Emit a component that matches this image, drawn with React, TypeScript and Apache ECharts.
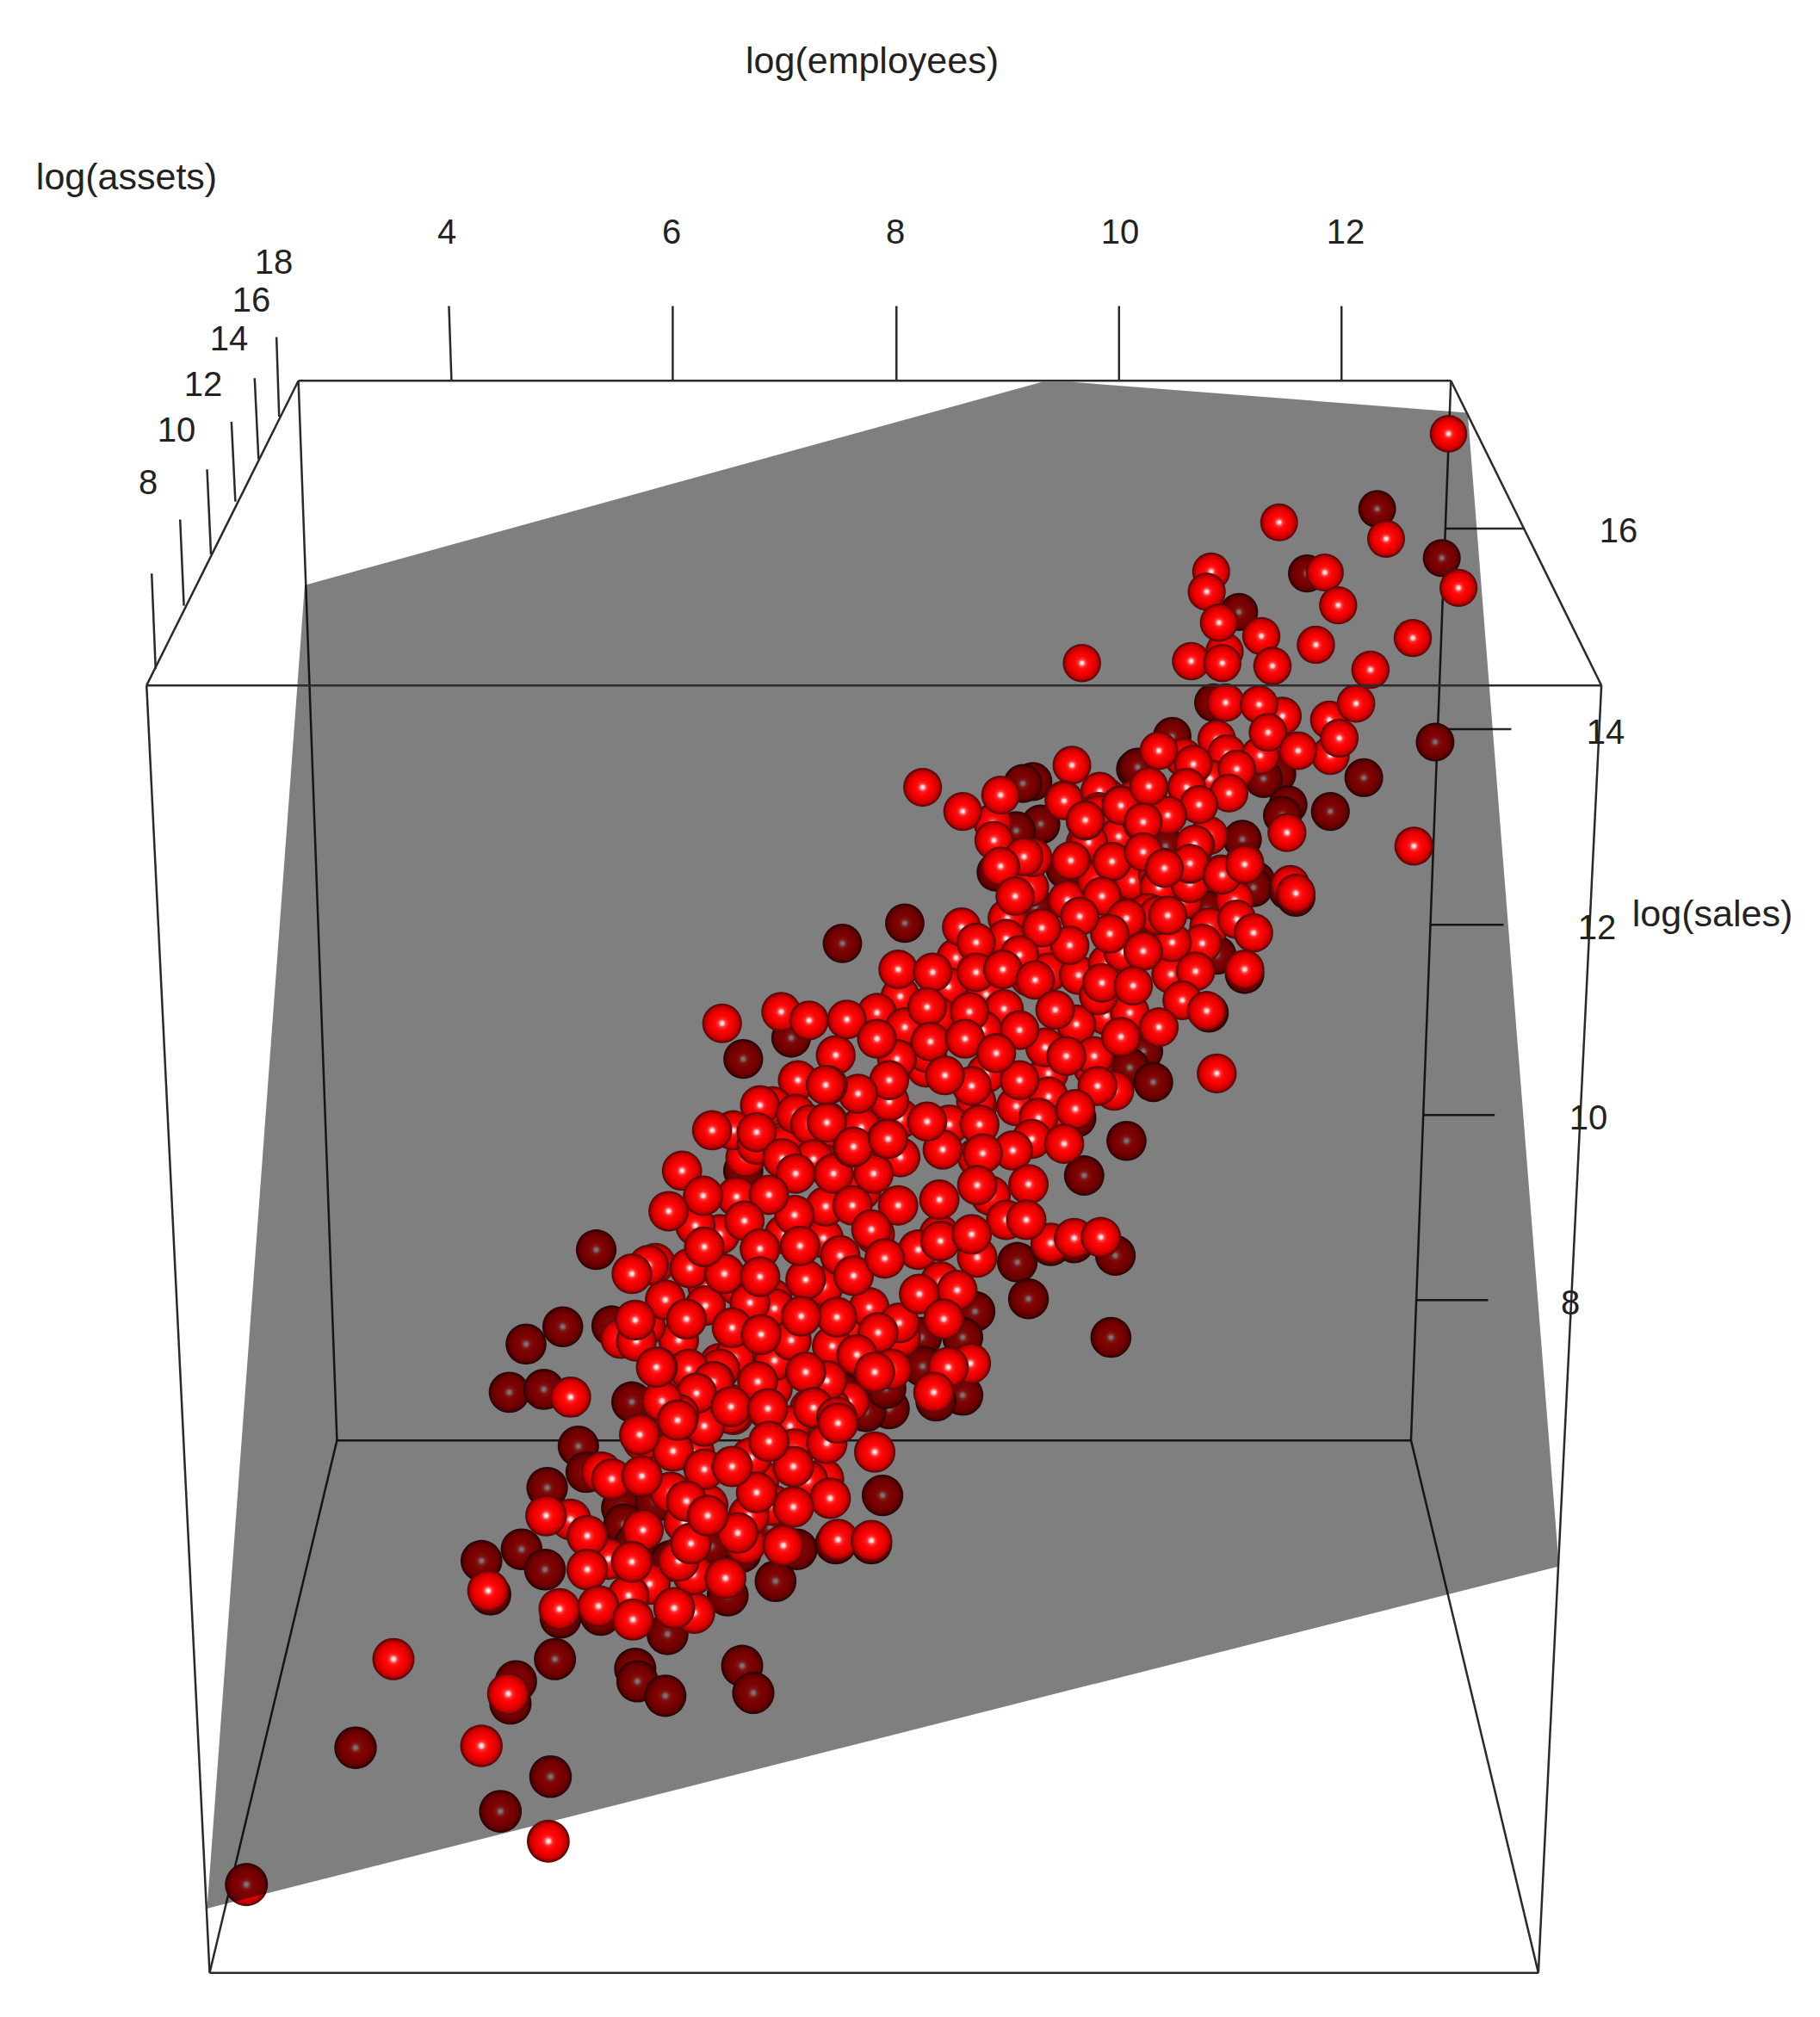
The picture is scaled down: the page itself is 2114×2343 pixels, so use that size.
import React, { useEffect, useRef } from "react";
import * as echarts from "echarts";

const darkFirms: number[][] = [
[12.32,16.20],[12.90,15.69],[11.69,15.53],[11.08,15.13],[10.85,14.19],[10.48,13.84],[12.84,13.78],[11.42,13.45],[11.30,13.40],[12.20,13.41],
[10.15,13.50],[11.52,13.13],[11.47,13.02],[11.90,13.06],[9.30,12.92],[9.23,13.37],[11.11,12.77],[10.42,12.65],[11.23,12.34],[10.16,12.36],
[9.14,13.35],[9.30,12.93],[9.08,12.86],[8.90,12.43],[10.17,13.52],[9.52,12.46],[10.42,12.70],[10.05,12.27],[10.14,12.40],[11.21,12.27],
[11.52,12.24],[11.59,12.17],[10.79,12.04],[10.88,11.57],[11.13,11.37],[9.25,12.07],[8.08,11.90],[7.52,11.69],[10.81,10.97],[10.22,10.57],
[10.10,10.40],[10.31,10.25],[9.62,9.88],[10.07,9.64],[7.06,10.71],[6.63,10.49],[6.63,9.33],[9.09,8.38],[9.39,8.55],[9.60,8.58],
[9.97,8.45],[9.19,8.00],[9.93,7.60],[9.69,9.28],[8.71,7.87],[8.23,7.60],[8.60,7.60],[8.24,7.30],[8.60,7.00],[8.36,6.94],
[7.93,6.87],[7.89,7.03],[5.31,8.51],[5.01,7.71],[4.68,7.53],[4.53,7.03],[4.84,7.06],[5.63,6.93],[5.45,7.72],[5.15,6.47],
[5.22,6.20],[4.87,6.04],[5.54,5.83],[5.56,5.66],[4.64,5.40],[4.28,5.28],[4.85,5.19],[5.66,5.46],[4.36,4.93],[4.99,4.69],
[5.35,4.72],[5.95,4.52],[4.94,4.26],[5.66,4.16],[6.62,4.19],[4.59,4.03],[6.49,4.92],[6.92,5.07],[7.11,5.40],[7.46,5.46],
[7.78,5.46],[7.88,5.96],[5.84,5.90],[6.61,5.37],[5.98,5.28],[6.34,5.43],[6.87,5.63],[7.94,6.86],[7.73,6.83],[7.91,7.07],
[7.52,7.03],[4.54,3.80],[5.68,4.03],[5.93,3.88],[6.72,3.91],[3.15,3.34],[4.90,3.04],[4.45,2.68],[2.17,1.92],
];

const brightFirms: number[][] = [
[9.20,12.27],[9.54,12.14],[10.12,12.34],[10.12,11.74],[10.58,12.14],[11.04,12.14],[10.81,12.81],[9.89,13.21],[10.35,12.40],[8.04,11.14],
[8.50,10.80],[8.85,10.80],[9.20,11.34],[9.89,10.94],[9.77,10.40],[9.43,9.87],[9.08,10.00],[8.73,10.00],[8.27,10.40],[7.12,10.27],
[6.89,10.00],[7.00,9.60],[7.35,9.73],[8.04,9.47],[8.73,9.47],[8.85,9.07],[8.39,8.67],[7.81,8.67],[7.69,9.13],[8.04,9.87],
[7.35,9.40],[7.35,8.13],[8.04,7.60],[7.58,7.73],[7.00,7.47],[6.42,7.33],[6.89,7.07],[6.54,6.80],[7.12,6.53],[7.81,7.33],
[5.96,7.20],[6.19,6.40],[6.77,6.13],[6.31,5.86],[5.73,6.53],[6.65,5.46],[6.89,5.86],[6.08,5.33],[5.73,5.60],[7.46,10.53],
[7.00,8.67],[6.65,9.47],[6.42,8.67],[6.31,8.13],[6.89,8.00],[7.58,6.93],[7.35,6.13],
[10.83,15.55],[10.95,14.72],[11.47,14.05],[11.89,14.01],[11.90,13.64],[10.88,13.81],[10.58,13.62],[10.97,13.66],[11.27,13.64],[10.82,13.40],
[9.83,13.27],[9.82,13.06],[9.97,12.78],[9.70,12.73],[10.22,12.65],[10.40,12.48],[10.37,12.30],[8.87,12.94],[10.14,13.19],[9.82,13.03],
[10.00,12.80],[9.73,12.74],[10.69,12.71],[10.36,12.27],[10.64,12.31],[9.00,11.95],[8.99,11.74],[9.31,11.69],[8.54,11.54],[8.47,11.24],
[9.37,11.39],[9.64,11.36],[9.90,11.48],[10.04,11.60],[10.26,11.74],[10.26,12.01],[10.81,11.86],[11.06,11.94],[10.47,11.37],[8.81,11.16],
[8.37,10.94],[8.97,11.01],[9.62,10.85],[10.10,10.97],[9.82,11.15],[7.83,10.97],[8.08,10.82],[8.78,10.79],[8.66,10.98],[8.90,10.55],
[8.28,10.55],[8.01,10.49],[8.81,10.34],[9.37,10.34],[9.34,10.61],[9.78,10.52],[9.53,10.52],[9.96,10.16],[7.94,10.05],[8.72,10.05],
[9.37,10.10],[9.28,9.88],[7.68,9.78],[7.39,9.84],[8.48,9.81],[8.75,9.81],[6.78,10.01],[7.10,9.92],[6.54,9.75],[6.75,9.60],
[7.23,9.81],[7.26,9.45],[6.57,9.06],[6.20,8.76],[7.35,8.63],[7.37,8.96],[7.09,8.87],[7.44,9.30],[7.69,9.78],[7.80,9.30],
[8.02,8.97],[7.50,8.45],[7.19,8.20],[8.20,8.51],[8.99,8.82],[8.73,8.43],[9.39,8.58],[9.60,8.63],[8.40,8.18],[8.55,8.09],
[7.76,7.91],[6.29,7.93],[6.91,7.90],[8.03,7.75],[7.84,7.65],[7.43,7.51],[7.96,7.27],[8.67,7.33],[6.91,7.36],[6.55,7.39],
[6.42,7.27],[7.06,7.57],[6.05,7.57],[5.75,7.72],[5.84,8.37],[6.15,8.32],[6.58,8.14],[6.46,8.26],[5.93,7.99],[6.69,7.96],
[5.78,8.35],[5.53,7.59],[5.67,7.56],[5.93,6.91],[6.22,7.02],[6.00,6.42],[5.36,6.20],[5.08,5.71],[5.42,5.30],[5.79,5.04],
[5.60,4.92],[6.19,4.74],[6.18,5.14],[5.98,5.99],[6.68,5.75],[6.05,5.28],[6.10,5.68],[7.23,6.86],[7.05,6.68],[7.41,6.87],
[6.84,6.86],[6.52,6.81],[6.53,6.90],[6.28,6.68],[7.38,7.15],[6.37,7.14],[6.70,6.35],[7.09,6.44],[7.21,6.11],[7.08,6.26],
[12.96,16.98],[12.40,15.89],[11.44,16.06],[13.05,15.38],[11.85,15.54],[10.79,15.34],[11.97,15.20],[10.90,15.02],[11.28,14.88],[11.77,14.79],
[12.64,14.86],[9.67,14.60],[10.65,14.62],[10.93,14.60],[11.38,14.57],[12.26,14.53],[10.96,14.19],[11.26,14.17],[12.13,14.18],[11.34,13.88],
[11.61,13.69],[11.98,13.82],[10.36,13.69],[10.67,13.55],[11.06,13.50],[9.58,13.54],[10.27,13.30],[10.02,13.13],[10.61,13.31],[10.99,13.25],
[10.72,13.13],[9.51,13.18],[9.70,12.96],[10.44,13.02],[10.21,12.94],[11.51,12.84],[12.65,12.70],[10.68,12.72],[9.94,12.54],[9.58,12.54],
[10.64,12.51],[11.13,12.53],[10.92,12.41],[11.54,12.30],[9.80,12.34],[9.23,12.58],[8.24,13.31],[8.94,13.23],[8.60,13.06],[8.88,12.76],
[9.15,12.59],[8.94,12.49],[9.51,13.17],[9.70,12.97],[10.02,13.12],[10.27,13.32],[10.22,12.95],[9.57,12.55],[9.94,12.54],[10.22,12.64],
[10.64,12.52],[10.41,12.47],[10.93,12.40],[11.13,12.51],[9.85,12.18],[11.59,12.21],[11.21,11.80],[10.75,11.69],[11.13,11.42],[10.48,11.70],
[10.35,11.98],[10.44,11.98],[10.07,11.95],[9.92,11.79],[9.65,11.97],[10.22,11.61],[9.56,11.67],[9.31,11.85],[9.07,12.18],[8.59,11.86],
[8.72,11.70],[9.11,11.57],[8.72,11.39],[8.02,11.42],[8.33,11.39],[8.96,11.42],[9.25,11.31],[9.85,11.28],[10.13,11.25],[10.69,11.40],
[10.57,11.10],[10.79,10.99],[10.36,10.82],[9.43,11.00],[8.28,11.03],[7.56,10.90],[7.83,10.70],[8.31,10.67],[8.62,10.70],[9.11,10.79],
[10.02,10.72],[10.88,10.34],[9.81,10.21],[9.11,10.27],[8.68,10.21],[8.44,10.32],[7.94,10.27],[7.66,10.13],[7.39,10.22],[8.90,10.55],
[9.61,9.97],[9.22,9.66],[9.51,9.61],[9.05,9.54],[8.78,9.51],[8.42,9.55],[7.92,9.66],[7.61,9.57],[8.28,9.84],[6.44,10.86],
[6.97,10.98],[7.22,10.89],[7.37,10.22],[6.35,9.75],[6.75,9.73],[7.38,9.83],[6.98,9.46],[7.10,9.30],[6.08,9.33],[6.27,9.07],
[5.96,8.91],[6.86,9.08],[6.64,8.81],[6.28,8.54],[6.78,8.52],[7.14,8.55],[7.61,8.97],[7.62,9.58],[7.93,9.66],[7.78,8.72],
[7.62,8.24],[7.90,8.42],[8.40,8.60],[8.39,9.03],[8.73,9.18],[9.19,9.19],[8.68,8.67],[9.17,8.82],[9.84,8.64],[8.21,8.05],
[8.43,7.79],[7.47,7.81],[7.15,7.82],[6.12,7.79],[6.53,7.70],[6.79,7.63],[6.78,8.23],[7.65,7.42],[7.81,7.24],[8.47,7.29],
[8.34,7.03],[7.19,7.24],[6.14,7.27],[5.86,7.29],[6.76,7.14],[6.36,7.14],[6.21,7.02],[6.52,6.88],[6.85,6.86],[7.26,6.87],
[7.47,6.77],[6.05,6.80],[5.90,6.94],[5.63,8.26],[5.66,7.78],[5.08,6.98],[5.85,7.29],[5.70,6.59],[6.04,6.74],[5.45,6.13],
[5.72,6.16],[4.86,5.75],[5.23,5.54],[5.23,5.19],[5.63,5.27],[4.34,4.97],[4.98,4.78],[5.33,4.81],[5.64,4.67],[6.01,4.79],
[6.47,5.10],[6.16,5.46],[6.58,5.57],[6.99,5.44],[7.48,5.50],[7.78,5.49],[7.41,5.93],[7.08,5.84],[6.75,5.99],[7.38,6.50],
[7.81,6.41],[6.86,6.52],[6.28,6.23],[6.53,6.26],[6.12,5.90],[6.31,5.75],[7.48,6.71],[4.52,3.90],[3.49,4.26],[4.28,3.36],[4.88,2.37],
];

const planeCorners: number[][] = [[2.694,15.409],[9.31,17.518],[9.576,17.518],[13.132,17.198],[13.952,5.223],[1.817,1.672]];

const backEdges: number[][] = [
[2.637,17.531,12.982,17.531],[12.982,17.531,12.624,6.531],[12.624,6.531,2.983,6.531],[2.983,6.531,2.637,17.531],
[2.983,6.531,1.840,1.004],[12.624,6.531,13.767,1.004],
[4.011,17.531,3.988,18.306],[5.997,17.531,5.997,18.306],[8.005,17.531,8.005,18.306],[10.003,17.531,10.003,18.306],[12.0,17.531,12.0,18.306],
[12.936,15.996,13.640,15.996],[12.866,13.913,13.524,13.913],[12.797,11.884,13.455,11.884],[12.728,9.909,13.375,9.909],[12.670,7.986,13.316,7.986],
[1.355,14.541,1.320,15.529],[1.609,15.195,1.575,16.090],[1.852,15.729,1.817,16.610],[2.071,16.276,2.036,17.104],[2.279,16.717,2.244,17.558],[2.464,17.158,2.440,17.985],
];

const frontEdges: number[][] = [
[1.274,14.368,14.333,14.368],[14.333,14.368,13.767,1.004],[13.767,1.004,1.840,1.004],[1.840,1.004,1.274,14.368],
[1.274,14.368,2.637,17.531],[14.333,14.368,12.982,17.531],
];

const employeeTicks = ["4", "6", "8", "10", "12"];
const salesTicks = ["16", "14", "12", "10", "8"];
const assetTicks = ["8", "10", "12", "14", "16", "18"];

const W = 2114, H = 2343;
const TICK_FONT = 40, TITLE_FONT = 43;
const employeePos = [[519,269],[780,269],[1040,269],[1301,269],[1563,269]];
const salesPos = [[1880,616],[1865,850],[1855,1077],[1845,1298],[1824,1513]];
const assetPos = [[172,560],[205,499],[236,446],[266,393],[292,348],[318,304]];

const txt = (text: string, x: number, y: number, size: number) => ({
  type: "text", x, y, z: 50, silent: true,
  style: { text, fill: "#222", font: `${size}px "Liberation Sans", Arial, sans-serif`, align: "center", verticalAlign: "middle" },
});

const sphere = () => new echarts.graphic.RadialGradient(0.5, 0.5, 0.5, [
  { offset: 0, color: "#ffffff" },
  { offset: 0.08, color: "#ffd0d0" },
  { offset: 0.2, color: "#ff3030" },
  { offset: 0.34, color: "#ff0808" },
  { offset: 0.62, color: "#ee0000" },
  { offset: 0.84, color: "#c00000" },
  { offset: 0.95, color: "#700000" },
  { offset: 1, color: "#302020" },
]);

const sizeOf = (v: number[]) => 50 - (v[1] - 2) * 0.43;

const edgeSeries = (data: number[][], z: number) => ({
  type: "custom", z, silent: true, clip: false, data,
  encode: { x: [0, 2], y: [1, 3] },
  renderItem: (_: any, api: any) => {
    const a = api.coord([api.value(0), api.value(1)]);
    const b = api.coord([api.value(2), api.value(3)]);
    return { type: "line", shape: { x1: a[0], y1: a[1], x2: b[0], y2: b[1] }, style: { stroke: "#2a2a2a", lineWidth: 2.5, fill: null } };
  },
});

export default function App() {
  const ref = useRef<HTMLDivElement>(null);
  useEffect(() => {
    const chart = echarts.init(ref.current!, null, { renderer: "svg" });
    chart.setOption({
      animation: false,
      backgroundColor: "#ffffff",
      grid: { left: 0, right: 0, top: 0, bottom: 0 },
      xAxis: { type: "value", min: -0.0417, max: 16.295, show: false },
      yAxis: { type: "value", min: 0.545, max: 21.483, show: false },
      tooltip: { show: false },
      graphic: [
        ...employeeTicks.map((t, i) => txt(t, employeePos[i][0], employeePos[i][1], TICK_FONT)),
        ...salesTicks.map((t, i) => txt(t, salesPos[i][0], salesPos[i][1], TICK_FONT)),
        ...assetTicks.map((t, i) => txt(t, assetPos[i][0], assetPos[i][1], TICK_FONT)),
        txt("log(employees)", 1013, 70, TITLE_FONT),
        txt("log(assets)", 147, 205, TITLE_FONT),
        txt("log(sales)", 1989, 1061, TITLE_FONT),
      ],
      series: [
        edgeSeries(backEdges, 1),
        { type: "scatter", z: 2, silent: true, data: darkFirms, symbol: "circle", symbolSize: sizeOf, itemStyle: { color: sphere(), opacity: 1 } },
        {
          type: "custom", z: 3, silent: true, clip: false, data: [0],
          renderItem: (_: any, api: any) => ({
            type: "polygon",
            shape: { points: planeCorners.map((c) => api.coord(c)) },
            style: { fill: "rgba(0,0,0,0.5)" },
          }),
        },
        { type: "scatter", z: 4, silent: true, data: brightFirms, symbol: "circle", symbolSize: sizeOf, itemStyle: { color: sphere(), opacity: 1 } },
        edgeSeries(frontEdges, 5),
      ],
    });
    return () => chart.dispose();
  }, []);
  return <div ref={ref} style={{ position: "absolute", left: 0, top: 0, width: W, height: H }} />;
}
